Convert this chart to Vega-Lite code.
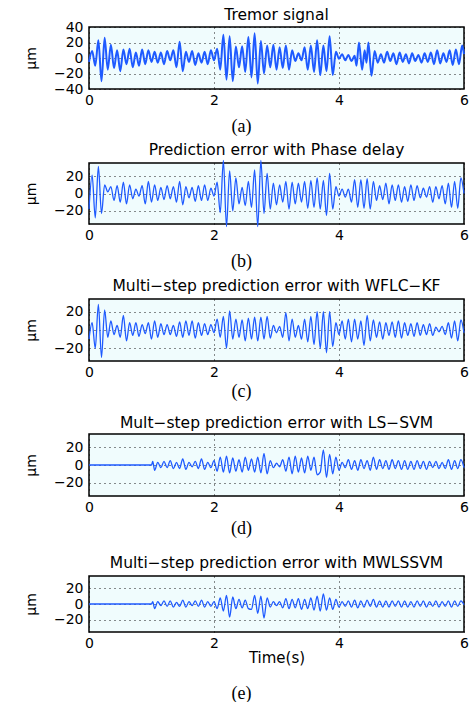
{
"$schema": "https://vega.github.io/schema/vega-lite/v6.json",
"padding": {"left": 23, "top": 6, "right": 0, "bottom": 0},
"background": "white",
"spacing": 16,
"config": {
  "font": "DejaVu Sans",
  "view": {"stroke": "black", "strokeWidth": 1.5, "fill": "#f0fcfd"},
  "axis": {"grid": true, "gridDash": [1, 4], "gridColor": "#000000", "gridOpacity": 0.9, "gridWidth": 1, "ticks": false, "domain": false, "labelFont": "DejaVu Sans", "labelFontSize": 14, "labelColor": "black", "titleFont": "DejaVu Sans", "titleFontSize": 14, "titleFontWeight": "normal", "titleColor": "black"},
  "axisX": {"labelPadding": 4, "labelFlush": false},
  "axisY": {"labelPadding": 6, "titlePadding": 15},
  "title": {"font": "DejaVu Sans", "fontSize": 15.5, "fontWeight": "normal", "color": "black", "frame": "group", "offset": 5},
  "line": {"interpolate": "monotone", "color": "#1e5aff", "strokeWidth": 1.3, "clip": true}
},
"datasets": {
"a": [{"t":0,"v":-5},{"t":0.05,"v":9},{"t":0.1,"v":-10},{"t":0.15,"v":23},{"t":0.2,"v":-30},{"t":0.25,"v":26},{"t":0.3,"v":-15},{"t":0.35,"v":17},{"t":0.4,"v":-13},{"t":0.45,"v":10},{"t":0.5,"v":-17},{"t":0.55,"v":11},{"t":0.6,"v":-8},{"t":0.65,"v":12},{"t":0.7,"v":-12},{"t":0.75,"v":7},{"t":0.8,"v":-10},{"t":0.85,"v":11},{"t":0.9,"v":-8},{"t":0.95,"v":10},{"t":1,"v":-5},{"t":1.05,"v":8},{"t":1.1,"v":-6},{"t":1.15,"v":7},{"t":1.2,"v":-8},{"t":1.25,"v":9},{"t":1.3,"v":-3},{"t":1.35,"v":10},{"t":1.4,"v":-12},{"t":1.45,"v":21},{"t":1.5,"v":-17},{"t":1.55,"v":8},{"t":1.6,"v":-5},{"t":1.65,"v":9},{"t":1.7,"v":-9},{"t":1.75,"v":6},{"t":1.8,"v":-6},{"t":1.85,"v":8},{"t":1.9,"v":-8},{"t":1.95,"v":10},{"t":2,"v":-3},{"t":2.05,"v":12},{"t":2.1,"v":-15},{"t":2.15,"v":30},{"t":2.2,"v":-28},{"t":2.25,"v":28},{"t":2.3,"v":-30},{"t":2.35,"v":15},{"t":2.4,"v":-12},{"t":2.45,"v":15},{"t":2.5,"v":-18},{"t":2.55,"v":27},{"t":2.6,"v":-25},{"t":2.65,"v":32},{"t":2.7,"v":-33},{"t":2.75,"v":22},{"t":2.8,"v":-20},{"t":2.85,"v":16},{"t":2.9,"v":-12},{"t":2.95,"v":17},{"t":3,"v":-15},{"t":3.05,"v":14},{"t":3.1,"v":-13},{"t":3.15,"v":16},{"t":3.2,"v":-15},{"t":3.25,"v":10},{"t":3.3,"v":-4},{"t":3.35,"v":6},{"t":3.4,"v":-3},{"t":3.45,"v":14},{"t":3.5,"v":-15},{"t":3.55,"v":16},{"t":3.6,"v":-18},{"t":3.65,"v":23},{"t":3.7,"v":-22},{"t":3.75,"v":16},{"t":3.8,"v":-17},{"t":3.85,"v":28},{"t":3.9,"v":-22},{"t":3.95,"v":8},{"t":4,"v":-1},{"t":4.05,"v":5},{"t":4.1,"v":-3},{"t":4.15,"v":4},{"t":4.2,"v":-4},{"t":4.25,"v":3},{"t":4.28,"v":-10},{"t":4.32,"v":20},{"t":4.37,"v":-15},{"t":4.41,"v":10},{"t":4.44,"v":-6},{"t":4.47,"v":20},{"t":4.52,"v":-23},{"t":4.57,"v":9},{"t":4.62,"v":-6},{"t":4.67,"v":5},{"t":4.72,"v":-6},{"t":4.77,"v":8},{"t":4.82,"v":-4},{"t":4.87,"v":6},{"t":4.92,"v":-8},{"t":4.97,"v":7},{"t":5.02,"v":-5},{"t":5.07,"v":5},{"t":5.12,"v":-7},{"t":5.17,"v":6},{"t":5.22,"v":-4},{"t":5.27,"v":4},{"t":5.32,"v":-6},{"t":5.37,"v":6},{"t":5.42,"v":-5},{"t":5.47,"v":7},{"t":5.52,"v":-8},{"t":5.57,"v":10},{"t":5.62,"v":-7},{"t":5.67,"v":6},{"t":5.72,"v":-5},{"t":5.77,"v":10},{"t":5.82,"v":-9},{"t":5.87,"v":11},{"t":5.92,"v":-8},{"t":5.97,"v":16},{"t":6,"v":5}],
"b": [{"t":0,"v":-18},{"t":0.05,"v":21},{"t":0.1,"v":-28},{"t":0.15,"v":31},{"t":0.2,"v":-23},{"t":0.25,"v":10},{"t":0.3,"v":2},{"t":0.35,"v":8},{"t":0.4,"v":-8},{"t":0.45,"v":9},{"t":0.5,"v":-10},{"t":0.55,"v":13},{"t":0.6,"v":-12},{"t":0.65,"v":10},{"t":0.7,"v":-6},{"t":0.75,"v":5},{"t":0.8,"v":-3},{"t":0.85,"v":9},{"t":0.9,"v":-12},{"t":0.95,"v":14},{"t":1,"v":-10},{"t":1.05,"v":10},{"t":1.1,"v":-8},{"t":1.15,"v":7},{"t":1.2,"v":-7},{"t":1.25,"v":9},{"t":1.3,"v":-6},{"t":1.35,"v":8},{"t":1.4,"v":-10},{"t":1.45,"v":14},{"t":1.5,"v":-13},{"t":1.55,"v":8},{"t":1.6,"v":-5},{"t":1.65,"v":7},{"t":1.7,"v":-9},{"t":1.75,"v":9},{"t":1.8,"v":-8},{"t":1.85,"v":10},{"t":1.9,"v":-8},{"t":1.95,"v":6},{"t":2,"v":-3},{"t":2.05,"v":13},{"t":2.1,"v":-22},{"t":2.15,"v":38},{"t":2.2,"v":-38},{"t":2.25,"v":26},{"t":2.3,"v":-20},{"t":2.35,"v":18},{"t":2.4,"v":-12},{"t":2.45,"v":7},{"t":2.5,"v":-14},{"t":2.55,"v":14},{"t":2.6,"v":-16},{"t":2.65,"v":27},{"t":2.7,"v":-38},{"t":2.75,"v":38},{"t":2.8,"v":-23},{"t":2.85,"v":23},{"t":2.9,"v":-18},{"t":2.95,"v":12},{"t":3,"v":-13},{"t":3.05,"v":10},{"t":3.1,"v":-10},{"t":3.15,"v":14},{"t":3.2,"v":-18},{"t":3.25,"v":13},{"t":3.3,"v":-12},{"t":3.35,"v":12},{"t":3.4,"v":-10},{"t":3.45,"v":14},{"t":3.5,"v":-17},{"t":3.55,"v":15},{"t":3.6,"v":-16},{"t":3.65,"v":18},{"t":3.7,"v":-18},{"t":3.75,"v":15},{"t":3.8,"v":-25},{"t":3.85,"v":23},{"t":3.9,"v":-18},{"t":3.95,"v":8},{"t":4,"v":-3},{"t":4.05,"v":5},{"t":4.1,"v":-4},{"t":4.15,"v":5},{"t":4.2,"v":-10},{"t":4.25,"v":16},{"t":4.3,"v":-16},{"t":4.35,"v":16},{"t":4.4,"v":-17},{"t":4.45,"v":17},{"t":4.5,"v":-18},{"t":4.55,"v":14},{"t":4.6,"v":-8},{"t":4.65,"v":9},{"t":4.7,"v":-7},{"t":4.75,"v":12},{"t":4.8,"v":-12},{"t":4.85,"v":10},{"t":4.9,"v":-8},{"t":4.95,"v":10},{"t":5,"v":-10},{"t":5.05,"v":8},{"t":5.1,"v":-9},{"t":5.15,"v":10},{"t":5.2,"v":-8},{"t":5.25,"v":9},{"t":5.3,"v":-5},{"t":5.35,"v":6},{"t":5.4,"v":-4},{"t":5.45,"v":8},{"t":5.5,"v":-10},{"t":5.55,"v":8},{"t":5.6,"v":-6},{"t":5.65,"v":9},{"t":5.7,"v":-12},{"t":5.75,"v":12},{"t":5.8,"v":-16},{"t":5.85,"v":14},{"t":5.9,"v":-17},{"t":5.95,"v":18},{"t":6,"v":0}],
"c": [{"t":0,"v":-10},{"t":0.05,"v":8},{"t":0.1,"v":-20},{"t":0.15,"v":28},{"t":0.2,"v":-30},{"t":0.25,"v":22},{"t":0.3,"v":-8},{"t":0.35,"v":10},{"t":0.4,"v":-5},{"t":0.45,"v":5},{"t":0.5,"v":-8},{"t":0.55,"v":16},{"t":0.6,"v":-12},{"t":0.65,"v":8},{"t":0.7,"v":-6},{"t":0.75,"v":8},{"t":0.8,"v":-7},{"t":0.85,"v":6},{"t":0.9,"v":-4},{"t":0.95,"v":8},{"t":1,"v":-10},{"t":1.05,"v":10},{"t":1.1,"v":-8},{"t":1.15,"v":7},{"t":1.2,"v":-5},{"t":1.25,"v":6},{"t":1.3,"v":-5},{"t":1.35,"v":5},{"t":1.4,"v":-7},{"t":1.45,"v":9},{"t":1.5,"v":-8},{"t":1.55,"v":10},{"t":1.6,"v":-6},{"t":1.65,"v":10},{"t":1.7,"v":-9},{"t":1.75,"v":8},{"t":1.8,"v":-6},{"t":1.85,"v":7},{"t":1.9,"v":-5},{"t":1.95,"v":6},{"t":2,"v":-3},{"t":2.05,"v":12},{"t":2.1,"v":-8},{"t":2.15,"v":15},{"t":2.2,"v":-20},{"t":2.25,"v":21},{"t":2.3,"v":-10},{"t":2.35,"v":12},{"t":2.4,"v":-8},{"t":2.45,"v":11},{"t":2.5,"v":-12},{"t":2.55,"v":13},{"t":2.6,"v":-10},{"t":2.65,"v":14},{"t":2.7,"v":-12},{"t":2.75,"v":14},{"t":2.8,"v":-10},{"t":2.85,"v":15},{"t":2.9,"v":-9},{"t":2.95,"v":5},{"t":3,"v":-3},{"t":3.05,"v":4},{"t":3.1,"v":-8},{"t":3.15,"v":19},{"t":3.2,"v":-12},{"t":3.25,"v":12},{"t":3.3,"v":-8},{"t":3.35,"v":5},{"t":3.4,"v":-10},{"t":3.45,"v":12},{"t":3.5,"v":-13},{"t":3.55,"v":15},{"t":3.6,"v":-16},{"t":3.65,"v":20},{"t":3.7,"v":-20},{"t":3.75,"v":20},{"t":3.8,"v":-25},{"t":3.85,"v":20},{"t":3.9,"v":-18},{"t":3.95,"v":8},{"t":4,"v":-5},{"t":4.05,"v":10},{"t":4.1,"v":-10},{"t":4.15,"v":12},{"t":4.2,"v":-13},{"t":4.25,"v":12},{"t":4.3,"v":-10},{"t":4.35,"v":10},{"t":4.4,"v":-17},{"t":4.45,"v":16},{"t":4.5,"v":-12},{"t":4.55,"v":11},{"t":4.6,"v":-8},{"t":4.65,"v":9},{"t":4.7,"v":-10},{"t":4.75,"v":8},{"t":4.8,"v":-6},{"t":4.85,"v":9},{"t":4.9,"v":-8},{"t":4.95,"v":10},{"t":5,"v":-9},{"t":5.05,"v":8},{"t":5.1,"v":-6},{"t":5.15,"v":7},{"t":5.2,"v":-7},{"t":5.25,"v":8},{"t":5.3,"v":-6},{"t":5.35,"v":6},{"t":5.4,"v":-5},{"t":5.45,"v":7},{"t":5.5,"v":-6},{"t":5.55,"v":3},{"t":5.6,"v":-2},{"t":5.65,"v":4},{"t":5.7,"v":-5},{"t":5.75,"v":8},{"t":5.8,"v":-9},{"t":5.85,"v":10},{"t":5.9,"v":-12},{"t":5.95,"v":11},{"t":6,"v":-3}],
"d": [{"t":0,"v":0},{"t":1,"v":0},{"t":1.02,"v":4},{"t":1.05,"v":-6},{"t":1.1,"v":3},{"t":1.15,"v":-3},{"t":1.2,"v":4},{"t":1.25,"v":-3},{"t":1.3,"v":5},{"t":1.35,"v":-4},{"t":1.4,"v":3},{"t":1.45,"v":-4},{"t":1.5,"v":7},{"t":1.55,"v":-5},{"t":1.6,"v":3},{"t":1.65,"v":-2},{"t":1.7,"v":4},{"t":1.75,"v":-4},{"t":1.8,"v":7},{"t":1.85,"v":-5},{"t":1.9,"v":3},{"t":1.95,"v":-3},{"t":2,"v":5},{"t":2.05,"v":-7},{"t":2.1,"v":9},{"t":2.15,"v":-8},{"t":2.2,"v":10},{"t":2.25,"v":-9},{"t":2.3,"v":8},{"t":2.35,"v":-7},{"t":2.4,"v":6},{"t":2.45,"v":-8},{"t":2.5,"v":9},{"t":2.55,"v":-6},{"t":2.6,"v":7},{"t":2.65,"v":-8},{"t":2.7,"v":9},{"t":2.75,"v":-9},{"t":2.8,"v":13},{"t":2.85,"v":-10},{"t":2.9,"v":5},{"t":2.95,"v":-3},{"t":3,"v":2},{"t":3.05,"v":-2},{"t":3.1,"v":6},{"t":3.15,"v":-7},{"t":3.2,"v":9},{"t":3.25,"v":-10},{"t":3.3,"v":10},{"t":3.35,"v":-8},{"t":3.4,"v":8},{"t":3.45,"v":-9},{"t":3.5,"v":10},{"t":3.55,"v":-6},{"t":3.6,"v":9},{"t":3.65,"v":-11},{"t":3.7,"v":-8},{"t":3.75,"v":17},{"t":3.8,"v":-14},{"t":3.85,"v":12},{"t":3.9,"v":-10},{"t":3.95,"v":9},{"t":4,"v":-6},{"t":4.05,"v":3},{"t":4.1,"v":-3},{"t":4.15,"v":6},{"t":4.2,"v":-5},{"t":4.25,"v":5},{"t":4.3,"v":-6},{"t":4.35,"v":6},{"t":4.4,"v":-4},{"t":4.45,"v":5},{"t":4.5,"v":-6},{"t":4.55,"v":9},{"t":4.6,"v":-5},{"t":4.65,"v":6},{"t":4.7,"v":-4},{"t":4.75,"v":5},{"t":4.8,"v":-5},{"t":4.85,"v":6},{"t":4.9,"v":-4},{"t":4.95,"v":5},{"t":5,"v":-5},{"t":5.05,"v":5},{"t":5.1,"v":-5},{"t":5.15,"v":4},{"t":5.2,"v":-5},{"t":5.25,"v":5},{"t":5.3,"v":-4},{"t":5.35,"v":4},{"t":5.4,"v":-5},{"t":5.45,"v":4},{"t":5.5,"v":-3},{"t":5.55,"v":4},{"t":5.6,"v":-4},{"t":5.65,"v":3},{"t":5.7,"v":-4},{"t":5.75,"v":6},{"t":5.8,"v":-5},{"t":5.85,"v":5},{"t":5.9,"v":-4},{"t":5.95,"v":6},{"t":6,"v":-3}],
"e": [{"t":0,"v":0},{"t":1,"v":0},{"t":1.02,"v":3},{"t":1.05,"v":-6},{"t":1.1,"v":3},{"t":1.15,"v":-2},{"t":1.2,"v":4},{"t":1.25,"v":-3},{"t":1.3,"v":4},{"t":1.35,"v":-4},{"t":1.4,"v":2},{"t":1.45,"v":-3},{"t":1.5,"v":5},{"t":1.55,"v":-4},{"t":1.6,"v":3},{"t":1.65,"v":-2},{"t":1.7,"v":4},{"t":1.75,"v":-3},{"t":1.8,"v":5},{"t":1.85,"v":-4},{"t":1.9,"v":3},{"t":1.95,"v":-3},{"t":2,"v":3},{"t":2.05,"v":-6},{"t":2.1,"v":8},{"t":2.15,"v":-9},{"t":2.2,"v":11},{"t":2.25,"v":-17},{"t":2.3,"v":9},{"t":2.35,"v":-6},{"t":2.4,"v":6},{"t":2.45,"v":-5},{"t":2.5,"v":5},{"t":2.55,"v":-6},{"t":2.6,"v":-7},{"t":2.65,"v":11},{"t":2.7,"v":-12},{"t":2.75,"v":10},{"t":2.8,"v":-18},{"t":2.85,"v":8},{"t":2.9,"v":-4},{"t":2.95,"v":3},{"t":3,"v":-2},{"t":3.05,"v":3},{"t":3.1,"v":-5},{"t":3.15,"v":7},{"t":3.2,"v":-6},{"t":3.25,"v":6},{"t":3.3,"v":-5},{"t":3.35,"v":7},{"t":3.4,"v":-7},{"t":3.45,"v":6},{"t":3.5,"v":-6},{"t":3.55,"v":8},{"t":3.6,"v":-8},{"t":3.65,"v":10},{"t":3.7,"v":-9},{"t":3.75,"v":13},{"t":3.8,"v":-8},{"t":3.85,"v":8},{"t":3.9,"v":-7},{"t":3.95,"v":6},{"t":4,"v":-4},{"t":4.05,"v":3},{"t":4.1,"v":-3},{"t":4.15,"v":4},{"t":4.2,"v":-4},{"t":4.25,"v":5},{"t":4.3,"v":-5},{"t":4.35,"v":4},{"t":4.4,"v":-4},{"t":4.45,"v":5},{"t":4.5,"v":-3},{"t":4.55,"v":6},{"t":4.6,"v":-4},{"t":4.65,"v":4},{"t":4.7,"v":-4},{"t":4.75,"v":4},{"t":4.8,"v":-4},{"t":4.85,"v":4},{"t":4.9,"v":-3},{"t":4.95,"v":4},{"t":5,"v":-4},{"t":5.05,"v":4},{"t":5.1,"v":-4},{"t":5.15,"v":3},{"t":5.2,"v":-4},{"t":5.25,"v":4},{"t":5.3,"v":-3},{"t":5.35,"v":4},{"t":5.4,"v":-4},{"t":5.45,"v":3},{"t":5.5,"v":-3},{"t":5.55,"v":4},{"t":5.6,"v":-4},{"t":5.65,"v":3},{"t":5.7,"v":-3},{"t":5.75,"v":4},{"t":5.8,"v":-4},{"t":5.85,"v":4},{"t":5.9,"v":-3},{"t":5.95,"v":4},{"t":6,"v":-1}]
},
"vconcat": [
{"spacing": 13, "vconcat": [
{"spacing": 6, "vconcat": [
{"title": {"text": "(a)", "orient": "bottom", "anchor": "middle", "font": "Liberation Serif", "fontSize": 18, "frame": "bounds", "offset": 10, "dx": -5},
 "vconcat": [{
  "width": 375, "height": 62,
  "title": {"text": "Tremor signal", "offset": -3},
  "data": {"name": "a"},
  "mark": {"type": "line", "strokeWidth": 2},
  "encoding": {
    "x": {"field": "t", "type": "quantitative", "scale": {"domain": [0, 6], "nice": false}, "axis": {"values": [0, 2, 4, 6], "title": null}},
    "y": {"field": "v", "type": "quantitative", "scale": {"domain": [-40, 40], "nice": false}, "axis": {"values": [-40, -20, 0, 20, 40], "title": "μm"}}
  }}]},
{"title": {"text": "(b)", "orient": "bottom", "anchor": "middle", "font": "Liberation Serif", "fontSize": 18, "frame": "bounds", "offset": 10, "dx": -5},
 "vconcat": [{
  "width": 375, "height": 61,
  "title": {"text": "Prediction error with Phase delay", "offset": -1},
  "data": {"name": "b"},
  "mark": {"type": "line"},
  "encoding": {
    "x": {"field": "t", "type": "quantitative", "scale": {"domain": [0, 6], "nice": false}, "axis": {"values": [0, 2, 4, 6], "title": null}},
    "y": {"field": "v", "type": "quantitative", "scale": {"domain": [-35, 35], "nice": false}, "axis": {"values": [-20, 0, 20], "title": "μm"}}
  }}]},
{"title": {"text": "(c)", "orient": "bottom", "anchor": "middle", "font": "Liberation Serif", "fontSize": 18, "frame": "bounds", "offset": 3, "dx": -5},
 "vconcat": [{
  "width": 375, "height": 62,
  "title": {"text": "Multi−step prediction error with WFLC−KF"},
  "data": {"name": "c"},
  "mark": {"type": "line"},
  "encoding": {
    "x": {"field": "t", "type": "quantitative", "scale": {"domain": [0, 6], "nice": false}, "axis": {"values": [0, 2, 4, 6], "title": null}},
    "y": {"field": "v", "type": "quantitative", "scale": {"domain": [-34, 34], "nice": false}, "axis": {"values": [-20, 0, 20], "title": "μm"}}
  }}]}
]},
{"title": {"text": "(d)", "orient": "bottom", "anchor": "middle", "font": "Liberation Serif", "fontSize": 18, "frame": "bounds", "offset": 5, "dx": -5},
 "vconcat": [{
  "width": 375, "height": 62,
  "title": {"text": "Mult−step prediction error with LS−SVM", "offset": 3},
  "data": {"name": "d"},
  "mark": {"type": "line"},
  "encoding": {
    "x": {"field": "t", "type": "quantitative", "scale": {"domain": [0, 6], "nice": false}, "axis": {"values": [0, 2, 4, 6], "title": null}},
    "y": {"field": "v", "type": "quantitative", "scale": {"domain": [-35, 35], "nice": false}, "axis": {"values": [-20, 0, 20], "title": "μm"}}
  }}]}
]},
{"title": {"text": "(e)", "orient": "bottom", "anchor": "middle", "font": "Liberation Serif", "fontSize": 18, "frame": "bounds", "offset": 19, "dx": -5},
 "vconcat": [{
  "width": 375, "height": 56,
  "title": {"text": "Multi−step prediction error with MWLSSVM"},
  "data": {"name": "e"},
  "mark": {"type": "line"},
  "encoding": {
    "x": {"field": "t", "type": "quantitative", "scale": {"domain": [0, 6], "nice": false}, "axis": {"values": [0, 2, 4, 6], "title": "Time(s)", "titlePadding": 0, "titleFontSize": 15}},
    "y": {"field": "v", "type": "quantitative", "scale": {"domain": [-36, 36], "nice": false}, "axis": {"values": [-20, 0, 20], "title": "μm"}}
  }}]}
]
}
